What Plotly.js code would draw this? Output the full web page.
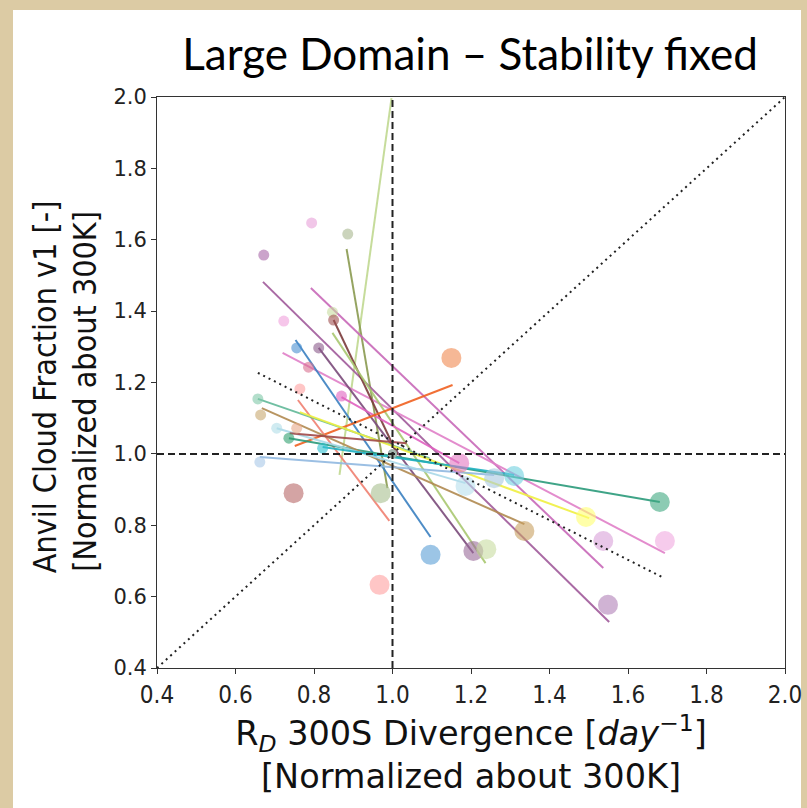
<!DOCTYPE html>
<html>
<head>
<meta charset="utf-8">
<script src="https://cdn.plot.ly/plotly-3.0.1.min.js"></script>
<style>
  html, body { margin: 0; padding: 0; width: 807px; height: 808px; background: #dccba4; overflow: hidden; }
  #chart { position: absolute; left: 13px; top: 10px; width: 794px; height: 798px;
    background: linear-gradient(to right, #ffffff 0, #ffffff 788px, #dccba4 788px, #dccba4 794px); }
</style>
</head>
<body>
<div id="chart"></div>
<script>
// Small dots (cooler runs)
const smallX = [0.794, 0.886, 0.672, 0.723, 0.847, 0.850, 0.756, 0.812, 0.786, 0.764, 0.870, 0.657, 0.664, 0.705, 0.756, 0.736, 0.822, 0.662];
const smallY = [1.647, 1.616, 1.557, 1.372, 1.397, 1.375, 1.297, 1.297, 1.243, 1.182, 1.162, 1.154, 1.109, 1.072, 1.072, 1.044, 1.016, 0.977];
const smallColors = ['#e8a0d8', '#a8b890', '#a868a8', '#f0a0dc', '#c8dca0', '#a05050', '#4a90d0', '#8a5a8a', '#d87090', '#ffa0a0', '#e060c0', '#80c8a8', '#c8a870', '#b0dde8', '#e8a888', '#30a070', '#30c0d0', '#a8c8e8'];

// Large dots (warmer runs)
const largeX = [1.150, 0.748, 0.970, 0.967, 1.097, 1.206, 1.239, 1.336, 1.170, 1.186, 1.259, 1.310, 1.681, 1.493, 1.537, 1.694, 1.549];
const largeY = [1.269, 0.890, 0.890, 0.633, 0.717, 0.728, 0.733, 0.784, 0.974, 0.910, 0.932, 0.938, 0.865, 0.823, 0.756, 0.756, 0.577];
const largeColors = ['#f08850', '#b86868', '#a8c090', '#ffa0a0', '#5a9ed6', '#9a6a9a', '#c8dca0', '#c8a060', '#e377c2', '#b8e0ec', '#a8c8e0', '#70d0e0', '#40a880', '#ffff70', '#d8a0d8', '#f0a8e0', '#b080b8'];

// Reference (300K) points, all normalized to 1
const refX = [1, 1, 1, 1, 1, 1, 1, 1];
const refY = [1, 1, 1, 1, 1, 1, 1, 1];
const refColors = ['#5a9ed6', '#e377c2', '#ffff70', '#70d0e0', '#b080b8', '#40a880', '#c8a060', '#a8c8e0'];

// Fit lines per model: start and end
const lineX0 = [0.9975, 0.883, 0.670, 0.792, 0.720, 0.753, 0.812, 0.850, 0.847, 0.870, 0.751, 0.759, 0.736, 0.657, 0.667, 0.764, 0.662, 0.705, 0.822, 0.738];
const lineY0 = [1.997, 1.574, 1.482, 1.465, 1.283, 1.319, 1.297, 1.375, 1.339, 1.159, 1.022, 1.151, 1.044, 1.154, 1.128, 1.117, 0.991, 1.072, 1.019, 1.058];
const lineX1 = [0.865, 0.987, 1.552, 1.537, 1.694, 1.097, 1.206, 1.013, 1.237, 1.170, 1.153, 0.992, 1.681, 1.094, 1.336, 1.501, 1.259, 1.186, 1.310, 1.036];
const lineY1 = [0.941, 0.904, 0.529, 0.680, 0.722, 0.767, 0.722, 0.997, 0.694, 0.974, 1.193, 0.812, 0.865, 0.988, 0.803, 0.820, 0.941, 0.918, 0.941, 1.030];
const lineColors = ['#c0d890', '#8a9a50', '#a05a9a', '#c868b8', '#e080c8', '#3a80c0', '#7a4a7a', '#7a3a3a', '#a8c870', '#e060c0', '#f06020', '#f08070', '#2a9a7a', '#60b898', '#b08a50', '#f0f040', '#90b8e0', '#a8d8e8', '#20b0c0', '#a04848'];

// Overall fit (dotted) and one-to-one line
const fitX = [0.657, 1.692];
const fitY = [1.227, 0.652];
const oneX = [0.4, 2.0];
const oneY = [0.4, 2.0];

// Text
const titleText = 'Large Domain – Stability fixed';
const xTitle = 'R<sub><i>D</i></sub> 300S Divergence [<i>day</i><sup>−1</sup>]<br>[Normalized about 300K]';
const yTitleLines = ['Anvil Cloud Fraction v1 [-]', '[Normalized about 300K]'];
const tickVals = [0.4, 0.6, 0.8, 1.0, 1.2, 1.4, 1.6, 1.8, 2.0];
const tickText = ['0.4', '0.6', '0.8', '1.0', '1.2', '1.4', '1.6', '1.8', '2.0'];

const traces = [];
for (let i = 0; i < lineX0.length; i++) {
  traces.push({
    type: 'scatter', mode: 'lines',
    x: [lineX0[i], lineX1[i]], y: [lineY0[i], lineY1[i]],
    line: { color: lineColors[i], width: 2 }, opacity: 0.9,
    hoverinfo: 'skip', showlegend: false
  });
}
traces.push({
  type: 'scatter', mode: 'markers', x: smallX, y: smallY,
  marker: { size: 11, color: smallColors, opacity: 0.6, line: { width: 0 } },
  hoverinfo: 'skip', showlegend: false
});
traces.push({
  type: 'scatter', mode: 'markers', x: refX, y: refY,
  marker: { size: 9, color: refColors, opacity: 0.5, line: { width: 0 } },
  hoverinfo: 'skip', showlegend: false
});
traces.push({
  type: 'scatter', mode: 'markers', x: largeX, y: largeY,
  marker: { size: 20, color: largeColors, opacity: 0.6, line: { width: 0 } },
  hoverinfo: 'skip', showlegend: false
});
// reference lines
traces.push({ type: 'scatter', mode: 'lines', x: [1, 1], y: [0.4, 2.0],
  line: { color: '#222', width: 2, dash: '7px,4px' }, hoverinfo: 'skip', showlegend: false });
traces.push({ type: 'scatter', mode: 'lines', x: [0.4, 2.0], y: [1, 1],
  line: { color: '#222', width: 2, dash: '7px,4px' }, hoverinfo: 'skip', showlegend: false });
traces.push({ type: 'scatter', mode: 'lines', x: oneX, y: oneY,
  line: { color: '#222', width: 2, dash: '2px,4px' }, hoverinfo: 'skip', showlegend: false });
traces.push({ type: 'scatter', mode: 'lines', x: fitX, y: fitY,
  line: { color: '#222', width: 2, dash: '2px,4px' }, hoverinfo: 'skip', showlegend: false });

const yTitleFont = { family: '"DejaVu Sans Condensed", "DejaVu Sans", sans-serif', size: 32, color: '#111' };

const layout = {
  width: 794, height: 798,
  margin: { l: 144, r: 22, t: 87, b: 140 },
  paper_bgcolor: 'rgba(0,0,0,0)', plot_bgcolor: '#ffffff',
  title: {
    text: titleText,
    font: { family: 'Lato, "Noto Sans", sans-serif', size: 44, color: '#000' },
    x: 0.5756, xref: 'container', xanchor: 'center',
    y: 0.944, yref: 'container', yanchor: 'middle'
  },
  xaxis: {
    range: [0.4, 2.0], tickvals: tickVals, ticktext: tickText,
    showgrid: false, zeroline: false,
    showline: true, linecolor: '#333', linewidth: 1, mirror: true,
    ticks: 'outside', ticklen: 5, tickcolor: '#333',
    ticklabeloverflow: 'allow',
    tickfont: { family: '"DejaVu Sans Condensed", "DejaVu Sans", sans-serif', size: 24, color: '#222' },
    title: {
      text: xTitle,
      font: { family: '"DejaVu Sans", sans-serif', size: 33.5, color: '#111' },
      standoff: 10
    }
  },
  yaxis: {
    range: [0.4, 2.0], tickvals: tickVals, ticktext: tickText,
    showgrid: false, zeroline: false,
    showline: true, linecolor: '#333', linewidth: 1, mirror: true,
    ticks: 'outside', ticklen: 5, tickcolor: '#333',
    tickfont: { family: '"DejaVu Sans", sans-serif', size: 21, color: '#222' }
  },
  annotations: [
    { text: yTitleLines[0], xref: 'paper', yref: 'paper', x: -0.178, y: 0.492,
      xanchor: 'center', yanchor: 'middle', textangle: -90, showarrow: false, font: yTitleFont },
    { text: yTitleLines[1], xref: 'paper', yref: 'paper', x: -0.115, y: 0.485,
      xanchor: 'center', yanchor: 'middle', textangle: -90, showarrow: false, font: yTitleFont }
  ]
};

Plotly.newPlot('chart', traces, layout, { displayModeBar: false, staticPlot: true });
</script>
</body>
</html>
